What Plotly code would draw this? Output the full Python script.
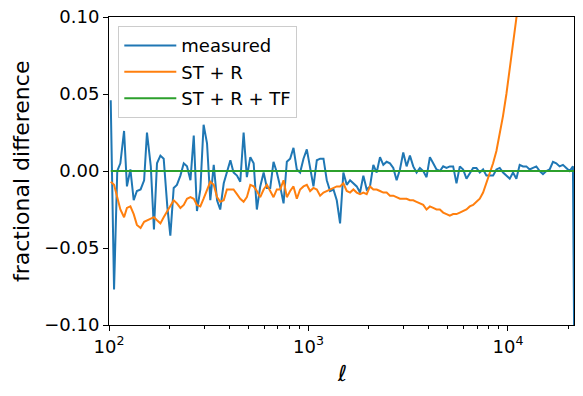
import plotly.graph_objects as go

# multipole bin centres (log-spaced bins)
ell = [102, 106, 110, 114, 119, 123, 128, 133, 138, 144, 150, 155, 162, 168, 174, 181, 188, 196, 203, 211,
       219, 228, 237, 246, 256, 266, 276, 287, 298, 310, 322, 335, 348, 361, 376, 390, 406, 421, 438, 455,
       473, 491, 511, 531, 551, 573, 596, 619, 643, 668, 694, 721, 750, 779, 809, 841, 874, 908, 944, 981,
       1019, 1059, 1101, 1144, 1189, 1235, 1283, 1334, 1386, 1440, 1496, 1555, 1616, 1679, 1745, 1813, 1884, 1958, 2034, 2114,
       2197, 2283, 2372, 2465, 2561, 2661, 2766, 2874, 2986, 3103, 3225, 3351, 3482, 3618, 3760, 3907, 4060, 4219, 4384, 4556,
       4734, 4919, 5112, 5312, 5520, 5736, 5960, 6194, 6436, 6688, 6950, 7222, 7505, 7799, 8104, 8421, 8751, 9094, 9450, 9820,
       10204, 10603, 11018, 11450, 11898, 12364, 12848, 13351, 13873, 14416, 14981, 15567, 16177, 16810, 17468, 18152, 18863, 19601, 20369, 21166,
       21995]

measured = [0.046, -0.077, 0.000, 0.005, 0.026, -0.010, 0.001, -0.019, -0.013, -0.012,
            -0.006, 0.025, 0.003, -0.038, 0.005, 0.010, 0.008, -0.023, -0.042, -0.011,
            -0.009, -0.003, 0.005, 0.003, -0.006, 0.023, -0.026, -0.012, 0.030, 0.018,
            -0.019, 0.004, -0.019, -0.025, -0.008, 0.000, 0.007, -0.001, -0.003, -0.007,
            0.025, -0.004, 0.009, 0.005, -0.025, -0.010, -0.001, -0.011, -0.011, 0.006,
            -0.001, -0.010, -0.021, 0.006, 0.008, 0.015, 0.001, -0.001, 0.008, 0.014,
            0.003, -0.010, 0.007, 0.008, 0.008, -0.006, -0.013, -0.012, -0.019, -0.034,
            -0.001, -0.009, -0.006, -0.008, -0.010, -0.014, -0.003, -0.012, -0.010, 0.004,
            -0.001, 0.009, 0.004, 0.006, 0.005, 0.002, -0.006, 0.001, 0.012, 0.003,
            0.010, 0.003, -0.001, 0.002, 0.000, -0.004, 0.009, 0.005, 0.001, 0.000,
            0.003, 0.002, 0.003, 0.003, -0.008, 0.003, 0.001, -0.005, -0.001, 0.002,
            0.002, -0.001, 0.001, -0.003, -0.003, -0.003, 0.001, 0.002, -0.001, -0.003,
            -0.005, -0.001, -0.005, 0.004, 0.003, 0.003, 0.001, 0.002, 0.003, 0.000,
            -0.002, 0.000, 0.001, 0.006, 0.005, 0.003, 0.004, 0.002, 0.000, 0.003,
            -0.300]

st_r = [-0.007, -0.009, -0.017, -0.025, -0.030, -0.024, -0.023, -0.028, -0.035, -0.037,
        -0.033, -0.032, -0.031, -0.030, -0.032, -0.034, -0.030, -0.026, -0.023, -0.019,
        -0.021, -0.024, -0.022, -0.018, -0.017, -0.018, -0.022, -0.023, -0.018, -0.012,
        -0.007, -0.009, -0.017, -0.020, -0.019, -0.012, -0.012, -0.012, -0.015, -0.018,
        -0.020, -0.017, -0.009, -0.010, -0.013, -0.017, -0.012, -0.009, -0.013, -0.017,
        -0.012, -0.012, -0.006, -0.017, -0.013, -0.010, -0.018, -0.012, -0.010, -0.009,
        -0.013, -0.011, -0.012, -0.016, -0.014, -0.013, -0.012, -0.011, -0.010, -0.010,
        -0.008, -0.013, -0.014, -0.012, -0.014, -0.015, -0.014, -0.015, -0.010, -0.012,
        -0.012, -0.013, -0.014, -0.014, -0.016, -0.016, -0.017, -0.018, -0.018, -0.018,
        -0.019, -0.019, -0.020, -0.021, -0.022, -0.025, -0.023, -0.024, -0.025, -0.025,
        -0.027, -0.028, -0.029, -0.028, -0.028, -0.027, -0.026, -0.025, -0.023, -0.022,
        -0.020, -0.018, -0.014, -0.008, -0.002, 0.005, 0.013, 0.024, 0.036, 0.050,
        0.065, 0.080, 0.094, 0.108, 0.125, 0.145, 0.165]

st_r_tf = [0.0] * len(ell)

blue, orange, green = "#1f77b4", "#ff7f0e", "#2ca02c"
font = "DejaVu Sans"

fig = go.Figure()
fig.add_trace(go.Scatter(x=ell, y=measured, mode="lines", name="measured",
                         line=dict(color=blue, width=2)))
fig.add_trace(go.Scatter(x=ell[:len(st_r)], y=st_r, mode="lines", name="ST + R",
                         line=dict(color=orange, width=2)))
fig.add_trace(go.Scatter(x=ell, y=st_r_tf, mode="lines", name="ST + R + TF",
                         line=dict(color=green, width=2)))

minor_vals = [m * d for d in (100, 1000, 10000) for m in range(2, 10) if m * d < 22000]

fig.update_layout(
    width=583, height=396,
    margin=dict(l=109, r=9, t=17, b=71),
    paper_bgcolor="white", plot_bgcolor="white",
    font=dict(family=font, size=18, color="black"),
    showlegend=True,
    legend=dict(x=0.02, y=0.97, xanchor="left", yanchor="top",
                bgcolor="rgba(255,255,255,0.8)", bordercolor="#cccccc", borderwidth=1,
                font=dict(family=font, size=18, color="black"), itemwidth=52,
                tracegroupgap=0),
    xaxis=dict(type="log", range=[2, 4.331], automargin=False,
               tickvals=[100, 1000, 10000],
               ticktext=["10<sup>2</sup>", "10<sup>3</sup>", "10<sup>4</sup>"],
               ticks="outside", ticklen=5, tickwidth=1, tickcolor="black",
               tickfont=dict(family=font, size=18),
               showline=True, linecolor="black", linewidth=1, mirror=True,
               showgrid=False, zeroline=False,
               minor=dict(tickvals=minor_vals, ticks="outside", ticklen=3,
                          tickwidth=1, tickcolor="black", showgrid=False)),
    yaxis=dict(range=[-0.1, 0.1], automargin=False,
               tickvals=[-0.1, -0.05, 0.0, 0.05, 0.1],
               ticktext=["−0.10", "−0.05", "0.00", "0.05", "0.10"],
               ticks="outside", ticklen=5, tickwidth=1, tickcolor="black",
               tickfont=dict(family=font, size=18),
               showline=True, linecolor="black", linewidth=1, mirror=True,
               showgrid=False, zeroline=False),
    annotations=[
        dict(text="fractional difference", textangle=-90, xref="paper", yref="paper",
             x=-0.189, y=0.5, xanchor="center", yanchor="middle", showarrow=False,
             font=dict(family=font, size=22, color="black")),
        dict(text="<i>ℓ</i>", xref="paper", yref="paper",
             x=0.5, y=-0.159, xanchor="center", yanchor="middle", showarrow=False,
             font=dict(family=font, size=22, color="black")),
    ],
)

fig.write_html("out.html", config={"displayModeBar": False},
               post_script="document.body.style.margin='0';")
